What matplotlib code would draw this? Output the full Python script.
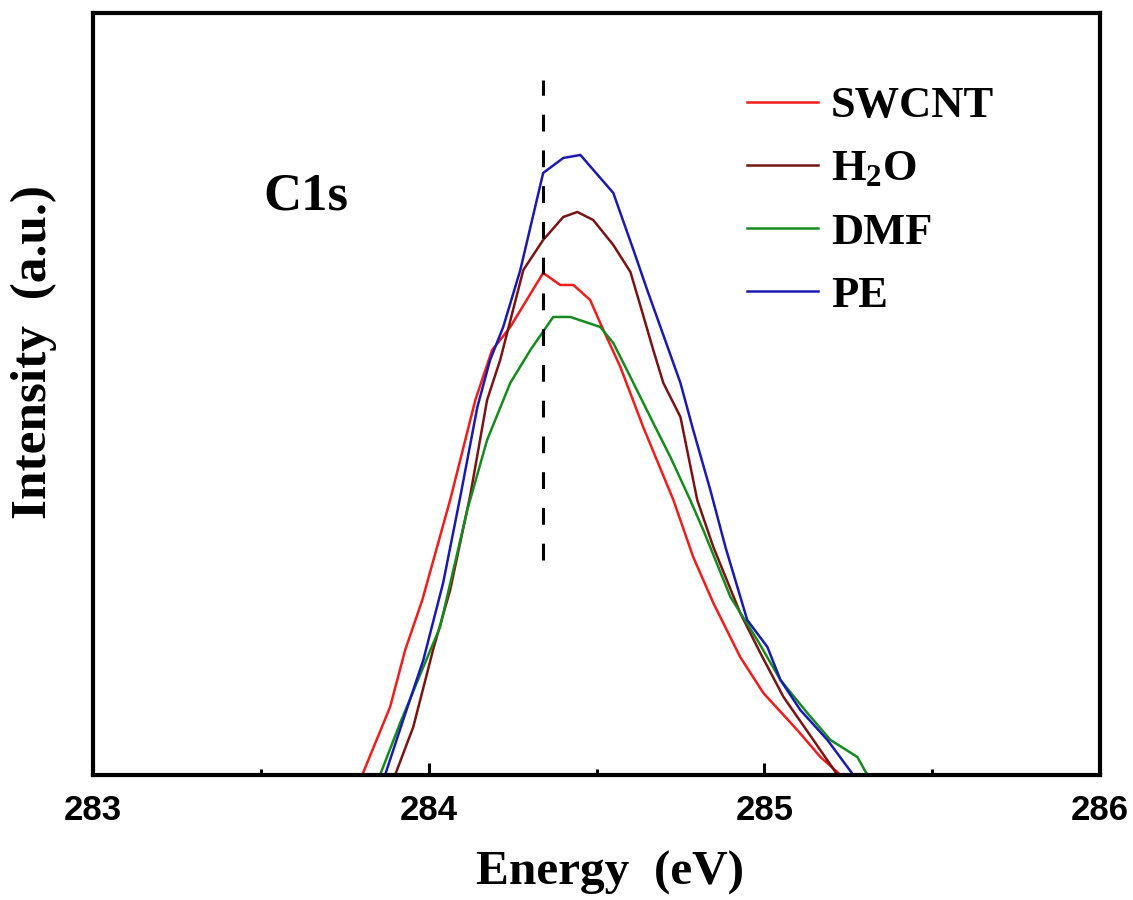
import matplotlib
matplotlib.use('Agg')
import matplotlib.pyplot as plt
from matplotlib.ticker import MultipleLocator

# C1s spectra (energy in eV, intensity in a.u.)
swcnt_e = [283.802, 283.885, 283.930, 283.981, 284.064, 284.139, 284.189, 284.213,
           284.243, 284.341, 284.392, 284.431, 284.481, 284.511, 284.571, 284.639,
           284.729, 284.788, 284.848, 284.928, 284.997, 285.098, 285.167, 285.227]
swcnt_i = [0, 68, 125, 175, 275, 375, 425, 435, 448, 502, 490, 490, 475, 452, 408, 348,
           275, 218, 172, 118, 82, 45, 18, 0]

h2o_e = [283.900, 283.954, 284.013, 284.064, 284.124, 284.174, 284.213, 284.282,
         284.341, 284.401, 284.443, 284.490, 284.550, 284.601, 284.630, 284.669,
         284.699, 284.750, 284.800, 284.848, 284.928, 284.988, 285.057, 285.146, 285.218]
h2o_i = [0, 48, 125, 185, 280, 375, 415, 505, 535, 558, 563, 555, 530, 503, 470, 425,
         392, 358, 275, 228, 162, 122, 78, 35, 0]

dmf_e = [283.855, 283.915, 283.984, 284.034, 284.115, 284.174, 284.243, 284.303,
         284.371, 284.422, 284.511, 284.550, 284.601, 284.669, 284.720, 284.779,
         284.818, 284.899, 284.979, 285.048, 285.128, 285.197, 285.277, 285.307]
dmf_i = [0, 52, 108, 148, 265, 335, 392, 425, 458, 458, 448, 432, 398, 352, 318, 275,
         245, 178, 135, 95, 62, 35, 18, 0]

pe_e = [283.870, 283.924, 283.984, 284.043, 284.094, 284.145, 284.183, 284.222,
        284.273, 284.341, 284.401, 284.452, 284.550, 284.610, 284.651, 284.699,
        284.750, 284.788, 284.839, 284.884, 284.949, 285.009, 285.048, 285.107,
        285.188, 285.265]
pe_i = [0, 55, 115, 192, 278, 368, 415, 448, 505, 602, 617, 620, 582, 525, 485, 440,
        392, 345, 285, 228, 155, 128, 95, 65, 35, 0]

peak_pos = 284.34
peak_span = [215, 695]

plt.rcParams.update({
    'font.family': 'Liberation Serif', 'font.weight': 'bold',
    'mathtext.fontset': 'custom', 'mathtext.rm': 'Liberation Serif:bold',
    'mathtext.it': 'Liberation Serif:bold', 'mathtext.bf': 'Liberation Serif:bold',
})

fig = plt.figure(figsize=(11.33, 9.0), dpi=100)
ax = fig.add_axes([0.0821, 0.1389, 0.8888, 0.8467])

LW = 1.8
ax.plot(swcnt_e, swcnt_i, color='#F01C1C', lw=LW, label='SWCNT')
ax.plot(h2o_e, h2o_i, color='#7A1414', lw=LW, label='H$_2$O')
ax.plot(dmf_e, dmf_i, color='#168A1E', lw=LW, label='DMF')
ax.plot(pe_e, pe_i, color='#1A1AB0', lw=LW, label='PE')

ax.plot([peak_pos, peak_pos], peak_span, color='black', lw=2.2, dashes=(5.5, 6.2))

ax.set_xlim(283, 286)
ax.set_ylim(0, 762)
ax.set_yticks([])
ax.xaxis.set_major_locator(MultipleLocator(1))
ax.xaxis.set_minor_locator(MultipleLocator(0.5))
ax.tick_params(axis='x', which='major', direction='in', length=9, width=2.2, pad=14)
ax.tick_params(axis='x', which='minor', direction='in', length=4, width=2.2)
for lab in ax.get_xticklabels():
    lab.set_fontfamily('Liberation Sans')
    lab.set_fontweight('bold')
    lab.set_fontsize(25)
for s in ax.spines.values():
    s.set_linewidth(3)

ax.set_xlabel('Energy  (eV)', fontsize=35.5, fontweight='bold')
ax.xaxis.set_label_coords(0.513, -0.100)
ax.set_ylabel('Intensity  (a.u.)', fontsize=37, fontweight='bold')
ax.yaxis.set_label_coords(-0.036, 0.555)

ax.text(0.169, 0.742, 'C1s', transform=ax.transAxes, fontsize=38, fontweight='bold')

ax.legend(loc='upper left', bbox_to_anchor=(0.649, 0.904), frameon=False,
          prop={'family': 'Liberation Serif', 'weight': 'bold', 'size': 32},
          handlelength=1.6, handletextpad=0.3, labelspacing=0.52, borderpad=0,
          borderaxespad=0)

fig.savefig('out.png', dpi=100, facecolor='white')
